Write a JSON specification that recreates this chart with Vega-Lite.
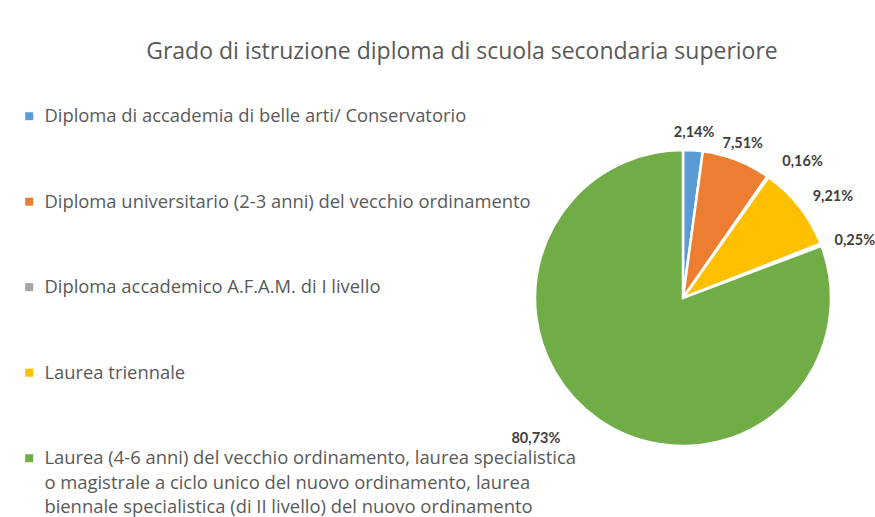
{
  "$schema": "https://vega.github.io/schema/vega-lite/v6.json",
  "autosize": {"type": "none"},
  "width": 296,
  "height": 296,
  "padding": {"left": 535, "top": 150, "right": 44, "bottom": 71},
  "background": "white",
  "title": {
    "text": "Grado di istruzione diploma di scuola secondaria superiore",
    "anchor": "middle",
    "dx": -221,
    "baseline": "bottom",
    "offset": 20,
    "font": "Open Sans",
    "fontSize": 23,
    "fontWeight": "normal",
    "color": "#595959"
  },
  "data": {
    "values": [
      {"categoria": "Diploma di accademia di belle arti/ Conservatorio", "v": 2.14, "idx": 1},
      {"categoria": "Diploma universitario (2-3 anni) del vecchio ordinamento", "v": 7.51, "idx": 2},
      {"categoria": "Diploma accademico A.F.A.M. di I livello", "v": 0.16, "idx": 3},
      {"categoria": "Laurea triennale", "v": 9.21, "idx": 4},
      {"categoria": "Dottorato di ricerca", "v": 0.25, "idx": 5},
      {"categoria": "Laurea (4-6 anni) del vecchio ordinamento, laurea specialistica o magistrale a ciclo unico del nuovo ordinamento, laurea biennale specialistica (di II livello) del nuovo ordinamento", "v": 80.73, "idx": 6}
    ]
  },
  "transform": [
    {"calculate": "replace(format(datum.v, '.2f'), '.', ',') + '%'", "as": "etichetta"}
  ],
  "encoding": {
    "theta": {"field": "v", "type": "quantitative", "stack": true},
    "order": {"field": "idx", "type": "quantitative"}
  },
  "layer": [
    {
      "mark": {"type": "arc", "outerRadius": 148, "stroke": "white", "strokeWidth": 2.5},
      "encoding": {
        "color": {
          "field": "categoria",
          "type": "nominal",
          "scale": {
            "domain": [
              "Diploma di accademia di belle arti/ Conservatorio",
              "Diploma universitario (2-3 anni) del vecchio ordinamento",
              "Diploma accademico A.F.A.M. di I livello",
              "Laurea triennale",
              "Laurea (4-6 anni) del vecchio ordinamento, laurea specialistica o magistrale a ciclo unico del nuovo ordinamento, laurea biennale specialistica (di II livello) del nuovo ordinamento",
              "Dottorato di ricerca"
            ],
            "range": ["#5B9BD5", "#ED7D31", "#A5A5A5", "#FFC000", "#70AD47", "#4472C4"]
          },
          "legend": {
            "title": null,
            "orient": "none",
            "legendX": -515,
            "legendY": -43,
            "symbolType": "square",
            "symbolSize": 64,
            "symbolStrokeWidth": 0,
            "labelFont": "Open Sans",
            "labelFontSize": 18.4,
            "labelColor": "#595959",
            "labelLimit": 0,
            "labelOffset": 6,
            "rowPadding": 66.5,
            "labelExpr": "datum.label == 'Laurea (4-6 anni) del vecchio ordinamento, laurea specialistica o magistrale a ciclo unico del nuovo ordinamento, laurea biennale specialistica (di II livello) del nuovo ordinamento' ? ['Laurea (4-6 anni) del vecchio ordinamento, laurea specialistica', 'o magistrale a ciclo unico del nuovo ordinamento, laurea', 'biennale specialistica (di II livello) del nuovo ordinamento'] : datum.label",
            "encode": {
              "labels": {
                "enter": {"lineHeight": {"value": 24.5}},
                "update": {"lineHeight": {"value": 24.5}}
              }
            }
          }
        }
      }
    },
    {
      "mark": {
        "type": "text",
        "font": "Lato",
        "fontSize": 14.5,
        "fontWeight": "bold",
        "color": "#404040",
        "radius": {"expr": "datum.v > 50 ? 204 : (datum.v > 9 || datum.v < 1) ? 181 : 165"},
        "thetaOffset": {"expr": "datum.v > 50 ? 0.2 : datum.v < 0.2 ? 0.11 : datum.v > 9 ? 0.07 : datum.v < 0.3 ? 0.047 : 0"}
      },
      "encoding": {
        "text": {"field": "etichetta", "type": "nominal"}
      }
    }
  ],
  "config": {
    "view": {"stroke": null},
    "style": {"guide-label": {"lineHeight": 24.5}}
  }
}
